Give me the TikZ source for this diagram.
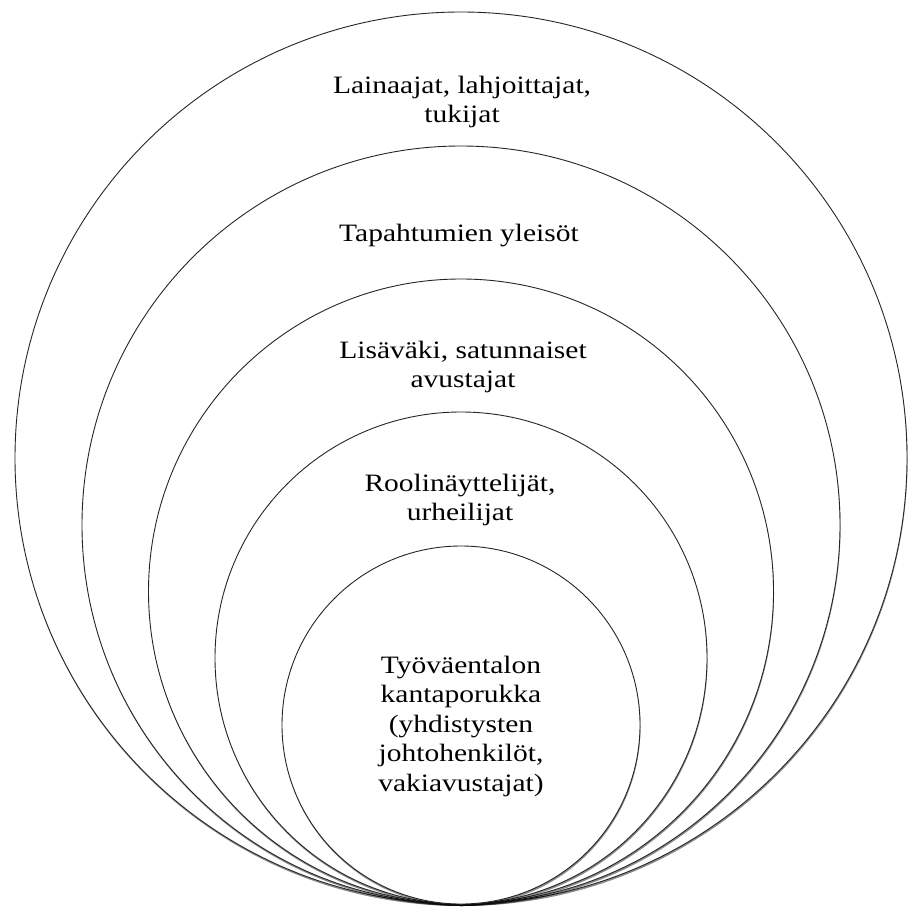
\documentclass[tikz,border=0pt]{standalone}
\usepackage{fontspec}
\setmainfont{Liberation Serif}[FakeStretch=1.18]
\usetikzlibrary{shadows}
\begin{document}
\begin{tikzpicture}[x=1pt,y=-1pt,
  ring/.style={draw=black!85, line width=0.9pt, fill=white,
    drop shadow={shadow xshift=0.5pt, shadow yshift=-2pt, opacity=0.45, fill=black}},
  lbl/.style={align=center, inner sep=0pt, font=\fontsize{25}{29.5}\selectfont}]
\useasboundingbox (0,0) rectangle (909,909);
\fill[white] (0,0) rectangle (909,909);
\coordinate (base) at (461,904);
\draw[ring] (461,904-446) circle[radius=446];
\draw[ring] (461,904-379) circle[radius=379];
\draw[ring] (461,904-312.5) circle[radius=312.5];
\draw[ring] (461,904-246) circle[radius=246];
\draw[ring] (461,904-179) circle[radius=179];
\node[lbl] (t1) at (462,102) {Lainaajat, lahjoittajat,\\tukijat};
\node[lbl] (t2) at (459,236) {Tapahtumien yleisöt};
\node[lbl] (t3) at (463,367) {Lisäväki, satunnaiset\\avustajat};
\node[lbl] (t4) at (460,500) {Roolinäyttelijät,\\urheilijat};
\node[lbl] (t5) at (461,726) {Työväentalon\\kantaporukka\\(yhdistysten\\johtohenkilöt,\\vakiavustajat)};
\end{tikzpicture}
\end{document}
